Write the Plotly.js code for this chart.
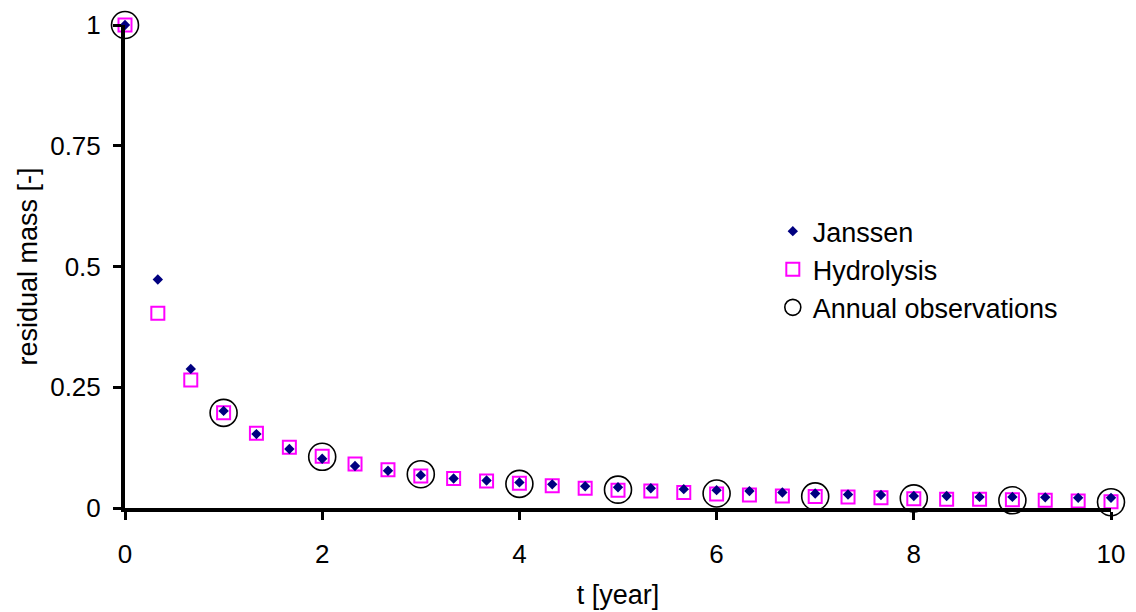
<!DOCTYPE html>
<html>
<head>
<meta charset="utf-8">
<script src="https://cdn.plot.ly/plotly-3.0.1.min.js"></script>
<style>
  html, body { margin: 0; padding: 0; background: #ffffff; }
  #chart { width: 1136px; height: 612px; }
</style>
</head>
<body>
<div id="chart"></div>
<script>
// Time steps (years), every third of a year
const tYears = [0, 0.333, 0.667, 1, 1.333, 1.667, 2, 2.333, 2.667, 3, 3.333, 3.667,
                4, 4.333, 4.667, 5, 5.333, 5.667, 6, 6.333, 6.667, 7, 7.333, 7.667,
                8, 8.333, 8.667, 9, 9.333, 9.667, 10];

// Residual mass, Janssen model
const janssen = [1.0, 0.473, 0.288, 0.201, 0.153, 0.122, 0.102, 0.087, 0.077, 0.068,
                 0.061, 0.057, 0.053, 0.049, 0.045, 0.043, 0.041, 0.039, 0.037, 0.035,
                 0.032, 0.030, 0.028, 0.027, 0.025, 0.025, 0.023, 0.023, 0.022, 0.021, 0.021];

// Residual mass, hydrolysis model
const hydrolysis = [1.0, 0.403, 0.265, 0.197, 0.155, 0.126, 0.107, 0.091, 0.079, 0.066,
                    0.061, 0.056, 0.051, 0.046, 0.041, 0.037, 0.035, 0.032, 0.029, 0.027,
                    0.025, 0.024, 0.023, 0.021, 0.019, 0.018, 0.018, 0.017, 0.016, 0.0145, 0.013];

// Annual observations
const obsYears = [0, 1, 2, 3, 4, 5, 6, 7, 8, 9, 10];
const observed = [1.0, 0.197, 0.106, 0.070, 0.050, 0.038, 0.030, 0.024, 0.020, 0.016, 0.012];

const FONT = 'Liberation Sans, Arial, sans-serif';

const traces = [
  {
    x: tYears, y: hydrolysis, name: 'Hydrolysis', type: 'scatter', mode: 'markers',
    legendrank: 2, cliponaxis: false,
    marker: { symbol: 'square-open', size: 13, color: '#ff00ff', line: { color: '#ff00ff', width: 2 } }
  },
  {
    x: tYears, y: janssen, name: 'Janssen', type: 'scatter', mode: 'markers',
    legendrank: 1, cliponaxis: false,
    marker: { symbol: 'diamond', size: 8, color: '#000080', line: { width: 0 } }
  },
  {
    x: obsYears, y: observed, name: 'Annual observations', type: 'scatter', mode: 'markers',
    legendrank: 3, cliponaxis: false,
    marker: { symbol: 'circle-open', size: 27, color: '#000000', line: { color: '#000000', width: 1.6 } }
  }
];

const layout = {
  width: 1136, height: 612,
  margin: { l: 125, r: 25, t: 25, b: 104 },
  paper_bgcolor: '#ffffff', plot_bgcolor: '#ffffff',
  font: { family: FONT, size: 26, color: '#000000' },
  showlegend: true,
  legend: {
    x: 0.657, y: 0.623, xanchor: 'left', yanchor: 'top',
    bgcolor: 'rgba(0,0,0,0)', borderwidth: 0,
    font: { family: FONT, size: 27, color: '#000000' },
    tracegroupgap: 0
  },
  xaxis: {
    range: [0, 10], tick0: 0, dtick: 2,
    showgrid: false, zeroline: false,
    showline: true, linecolor: '#000000', linewidth: 4,
    ticks: 'outside', ticklen: 8, tickwidth: 3, tickcolor: '#000000',
    ticklabelstandoff: 12,
    tickfont: { family: FONT, size: 26, color: '#000000' },
    title: { text: 't [year]', font: { family: FONT, size: 27, color: '#000000' }, standoff: 18 },
    automargin: false
  },
  yaxis: {
    range: [0, 1], tick0: 0, dtick: 0.25,
    showgrid: false, zeroline: false,
    showline: true, linecolor: '#000000', linewidth: 4,
    ticks: 'outside', ticklen: 8, tickwidth: 3, tickcolor: '#000000',
    ticklabelstandoff: 7,
    tickfont: { family: FONT, size: 26, color: '#000000' },
    title: { text: 'residual mass [-]', font: { family: FONT, size: 27, color: '#000000' }, standoff: 6 },
    automargin: false
  }
};

Plotly.newPlot('chart', traces, layout, { displayModeBar: false, staticPlot: true });
</script>
</body>
</html>
